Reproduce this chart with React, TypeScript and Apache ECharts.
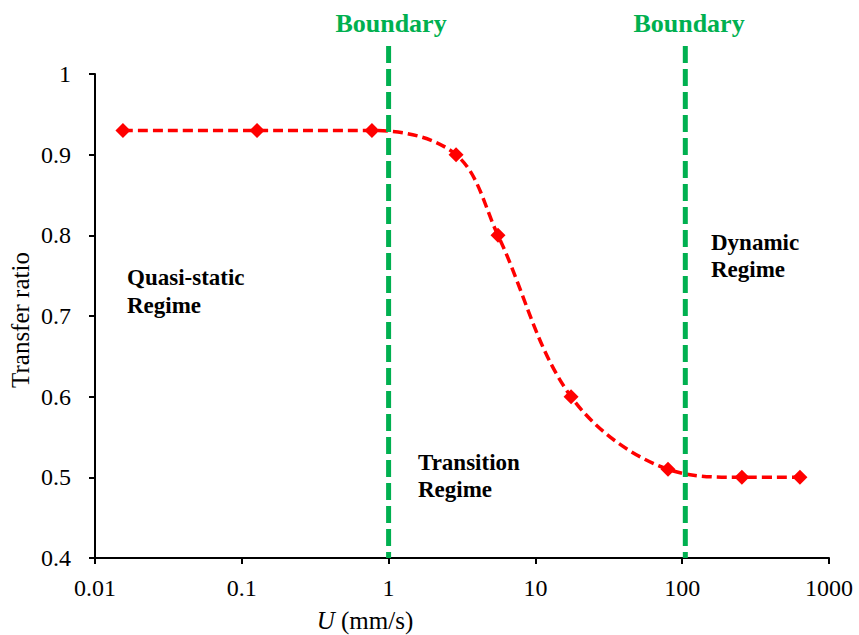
import React, { useEffect, useRef } from "react";
import * as echarts from "echarts";

const uValues = [0.0155, 0.127, 0.77, 2.88, 5.56, 17.5, 80, 255, 634];
const ratioValues = [0.93, 0.93, 0.93, 0.9, 0.8, 0.6, 0.51, 0.5, 0.5];
const boundaryValues = [1, 105];
const boundaryLabel = "Boundary";
const regionLabels = ["Quasi-static\nRegime", "Transition\nRegime", "Dynamic\nRegime"];

const SERIF = "Liberation Serif";
const GREEN = "#00B050";

export default function App() {
  const ref = useRef<HTMLDivElement>(null);
  useEffect(() => {
    if (!ref.current) return;
    const chart = echarts.init(ref.current, undefined, { renderer: "svg" });
    const axisCommon = {
      axisLine: { show: true, lineStyle: { color: "#000", width: 2 } },
      axisTick: { show: true, length: 6, lineStyle: { color: "#000", width: 2 } },
      splitLine: { show: false },
    };
    const fmt = (v: number) => String(Number(Number(v).toPrecision(6)));
    const txt = (x: number, y: number, text: string, extra: any) => ({
      type: "text",
      x,
      y,
      style: {
        text,
        fill: "#000",
        fontFamily: SERIF,
        align: "left",
        verticalAlign: "middle",
        ...extra,
      },
    });
    const option: any = {
      animation: false,
      backgroundColor: "#fff",
      grid: [
        { left: 95, right: 30, top: 74, bottom: 77, outerBoundsMode: "none" },
        { left: 95, right: 30, top: 46, bottom: 77, outerBoundsMode: "none" },
      ],
      xAxis: [
        {
          type: "log",
          logBase: 10,
          min: 0.01,
          max: 1000,
          gridIndex: 0,
          ...axisCommon,
          axisLabel: {
            color: "#000",
            fontFamily: SERIF,
            fontSize: 24,
            margin: 18,
            formatter: fmt,
            alignMinLabel: "center",
            alignMaxLabel: "center",
          },
        },
        { type: "log", logBase: 10, min: 0.01, max: 1000, gridIndex: 1, show: false },
      ],
      yAxis: [
        {
          type: "value",
          min: 0.4,
          max: 1,
          interval: 0.1,
          gridIndex: 0,
          ...axisCommon,
          axisLabel: { color: "#000", fontFamily: SERIF, fontSize: 24, margin: 24, formatter: fmt },
        },
        { type: "value", min: 0, max: 1, gridIndex: 1, show: false },
      ],
      series: [
        {
          type: "line",
          xAxisIndex: 0,
          yAxisIndex: 0,
          data: uValues.map((u, i) => [u, ratioValues[i]]),
          smooth: 0.35,
          symbol: "diamond",
          symbolSize: 15,
          itemStyle: { color: "#FF0000" },
          lineStyle: { color: "#FF0000", width: 3.5, type: [10, 5] },
          z: 2,
        },
        ...boundaryValues.map((b) => ({
          type: "line",
          xAxisIndex: 1,
          yAxisIndex: 1,
          data: [
            [b, 1],
            [b, 0],
          ],
          symbol: "none",
          lineStyle: { color: GREEN, width: 5, type: [17, 6] },
          z: 3,
        })),
      ],
      graphic: [
        txt(391, 23, boundaryLabel, { fill: GREEN, fontSize: 26, fontWeight: "bold", align: "center" }),
        txt(689, 23, boundaryLabel, { fill: GREEN, fontSize: 26, fontWeight: "bold", align: "center" }),
        txt(127, 291, regionLabels[0], { fontSize: 23, fontWeight: "bold", lineHeight: 28 }),
        txt(418, 476, regionLabels[1], { fontSize: 23, fontWeight: "bold", lineHeight: 27 }),
        txt(711, 256, regionLabels[2], { fontSize: 23, fontWeight: "bold", lineHeight: 27 }),
        {
          ...txt(20, 320, "Transfer ratio", { fontSize: 25, align: "center" }),
          rotation: Math.PI / 2,
        },
        txt(365, 620, "{i|U} (mm/s)", {
          fontSize: 25,
          align: "center",
          rich: {
            i: { fontStyle: "italic", fontFamily: SERIF, fontSize: 25, fill: "#000" },
          },
        }),
      ],
    };
    chart.setOption(option);
    return () => chart.dispose();
  }, []);
  return (
    <div
      ref={ref}
      style={{ position: "absolute", left: 0, top: 0, width: 859, height: 635 }}
    />
  );
}
